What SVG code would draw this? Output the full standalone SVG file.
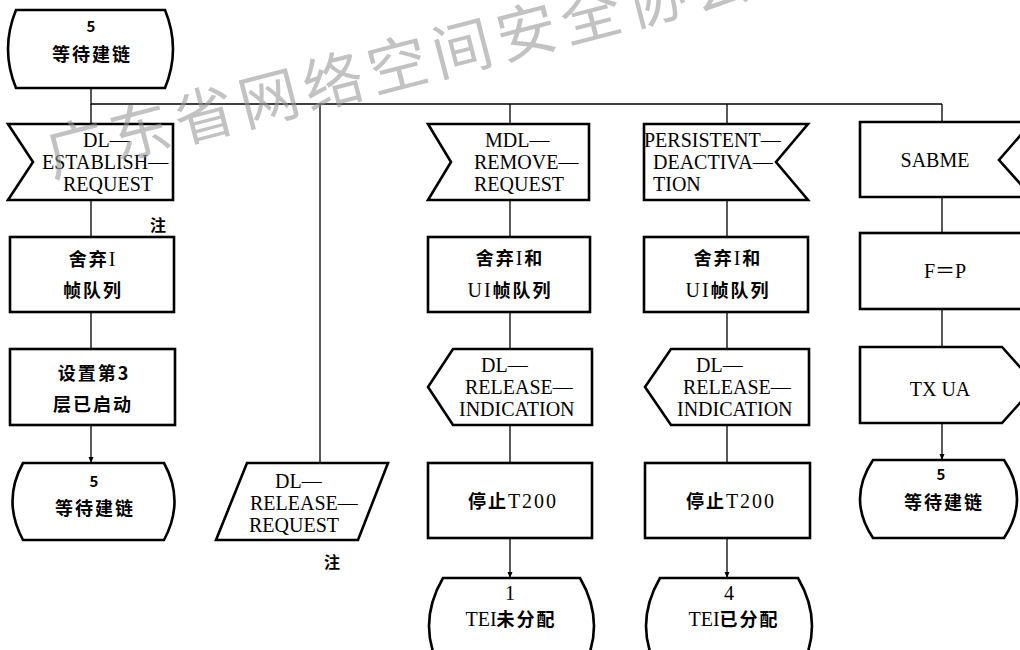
<svg xmlns="http://www.w3.org/2000/svg" width="1020" height="650" viewBox="0 0 1020 650">
<style>
.s{fill:#fff;stroke:#000;stroke-width:2.6;stroke-linejoin:miter}
.c{fill:none;stroke:#000;stroke-width:1.3}
.l{font-family:"Liberation Serif","Noto Sans CJK SC",serif;font-size:20px;fill:#000}
.z{font-family:"Noto Sans CJK SC","Liberation Serif",sans-serif;font-size:18px;font-weight:700;letter-spacing:2px;fill:#000}
.m{text-anchor:middle}
.n{font-family:"Noto Sans CJK SC",sans-serif;font-size:16px;font-weight:700;fill:#000}
.w{font-family:"Noto Sans CJK SC",sans-serif;font-size:60px;letter-spacing:6.5px;fill:#9a9a9a;fill-opacity:0.6}
</style>
<defs>
<marker id="a" viewBox="0 0 6 8" refX="6" refY="4" markerWidth="6" markerHeight="8" markerUnits="userSpaceOnUse" orient="auto">
<path d="M0,1.5 L6,4 L0,6.5 Z" fill="#000"/>
</marker>
</defs>
<rect width="1020" height="650" fill="#fff"/>

<g id="connectors">
<path class="c" d="M91,88 V104 H942"/>
<path class="c" d="M91,104 V124 M91,200 V237 M91,312 V349"/>
<path class="c" d="M91,425 V463" marker-end="url(#a)"/>
<path class="c" d="M320,104 V463"/>
<path class="c" d="M510,104 V124 M510,200 V237 M510,312 V349 M510,425 V463"/>
<path class="c" d="M510,538 V578" marker-end="url(#a)"/>
<path class="c" d="M727,104 V124 M727,200 V237 M727,312 V349 M727,425 V463"/>
<path class="c" d="M727,538 V578" marker-end="url(#a)"/>
<path class="c" d="M942,104 V122 M942,197 V233 M942,309 V347"/>
<path class="c" d="M942,423 V460" marker-end="url(#a)"/>
</g>

<g id="start">
<path class="s" d="M16,10 H165 Q181,49 165,88 H16 Q0,49 16,10 Z"/>
<text class="z m" x="92" y="32" style="font-size:15px">5</text>
<text class="z m" x="92" y="61">等待建链</text>
</g>

<g id="c1-input">
<path class="s" d="M8,124 H173 V200 H8 L33,162 Z"/>
<text class="l" x="83" y="147">DL—</text>
<text class="l" x="42" y="169">ESTABLISH—</text>
<text class="l" x="63" y="191">REQUEST</text>
</g>
<text id="note1" class="n" x="150" y="231">注</text>

<g id="c1-discard">
<rect class="s" x="10" y="237" width="164" height="75"/>
<text class="z m" x="93" y="266">舍弃<tspan class="l" style="font-weight:400">I</tspan></text>
<text class="z m" x="93" y="297">帧队列</text>
</g>

<g id="c1-set">
<rect class="s" x="10" y="349" width="165" height="76"/>
<text class="z m" x="94" y="380">设置第3</text>
<text class="z m" x="93" y="411">层已启动</text>
</g>

<g id="c1-state">
<path class="s" d="M23,463 H164 Q185,501 164,540 H23 Q2,501 23,463 Z"/>
<text class="z m" x="95" y="487" style="font-size:15px">5</text>
<text class="z m" x="95" y="515">等待建链</text>
</g>

<g id="c2-output">
<path class="s" d="M247,463 H388 L358,540 H216 Z"/>
<text class="l" x="275" y="488">DL—</text>
<text class="l" x="250" y="510">RELEASE—</text>
<text class="l" x="249" y="532">REQUEST</text>
</g>
<text id="note2" class="n" x="324" y="568">注</text>

<g id="c3-input">
<path class="s" d="M428,124 H589 V200 H428 L451,162 Z"/>
<text class="l" x="485" y="147">MDL—</text>
<text class="l" x="474" y="169">REMOVE—</text>
<text class="l" x="474" y="191">REQUEST</text>
</g>

<g id="c3-discard">
<rect class="s" x="428" y="237" width="162" height="75"/>
<text class="z m" x="510" y="265">舍弃<tspan class="l" style="font-weight:400">I</tspan>和</text>
<text class="z m" x="510" y="297"><tspan class="l" style="font-weight:400">UI</tspan>帧队列</text>
</g>

<g id="c3-indication">
<path class="s" d="M453,349 H592 V425 H453 L428,387 Z"/>
<text class="l" x="481" y="372">DL—</text>
<text class="l" x="465" y="394">RELEASE—</text>
<text class="l" x="459" y="416">INDICATION</text>
</g>

<g id="c3-stop">
<rect class="s" x="428" y="463" width="164" height="75"/>
<text class="z m" x="513" y="508">停止<tspan class="l" style="font-weight:400">T200</tspan></text>
</g>

<g id="c3-state">
<path class="s" d="M443,578 H580 Q608,626 580,674 H443 Q415,626 443,578 Z"/>
<text class="l m" x="510" y="600">1</text>
<text class="z m" x="511" y="626"><tspan class="l" style="font-weight:400;letter-spacing:0">TEI</tspan>未分配</text>
</g>

<g id="c4-input">
<path class="s" d="M644,124 H808 L776,162 L808,200 H644 Z"/>
<text class="l" x="644" y="147">PERSISTENT—</text>
<text class="l" x="653" y="169">DEACTIVA—</text>
<text class="l" x="653" y="191">TION</text>
</g>

<g id="c4-discard">
<rect class="s" x="644" y="237" width="164" height="75"/>
<text class="z m" x="728" y="265">舍弃<tspan class="l" style="font-weight:400">I</tspan>和</text>
<text class="z m" x="728" y="297"><tspan class="l" style="font-weight:400">UI</tspan>帧队列</text>
</g>

<g id="c4-indication">
<path class="s" d="M671,349 H809 V425 H671 L645,387 Z"/>
<text class="l" x="696" y="372">DL—</text>
<text class="l" x="683" y="394">RELEASE—</text>
<text class="l" x="677" y="416">INDICATION</text>
</g>

<g id="c4-stop">
<rect class="s" x="645" y="463" width="165" height="75"/>
<text class="z m" x="731" y="508">停止<tspan class="l" style="font-weight:400">T200</tspan></text>
</g>

<g id="c4-state">
<path class="s" d="M660,578 H798 Q826,626 798,674 H660 Q632,626 660,578 Z"/>
<text class="l m" x="729" y="600">4</text>
<text class="z m" x="734" y="626"><tspan class="l" style="font-weight:400;letter-spacing:0">TEI</tspan>已分配</text>
</g>

<g id="c5-input">
<path class="s" d="M860,122 H1032 L999,160 L1032,197 H860 Z"/>
<text class="l m" x="935" y="167">SABME</text>
</g>

<g id="c5-fp">
<rect class="s" x="860" y="233" width="172" height="76"/>
<text class="l m" x="945" y="278">F＝P</text>
</g>

<g id="c5-txua">
<path class="s" d="M860,347 H1002 L1036,385 L1002,423 H860 Z"/>
<text class="l m" x="940" y="396">TX  UA</text>
</g>

<g id="c5-state">
<path class="s" d="M873,460 H1004 Q1030,499 1004,538 H873 Q847,499 873,460 Z"/>
<text class="z m" x="942" y="480" style="font-size:15px">5</text>
<text class="z m" x="944" y="509">等待建链</text>
</g>

<text class="w" transform="translate(52,177) rotate(-14.5)">广东省网络空间安全协会</text>
</svg>
